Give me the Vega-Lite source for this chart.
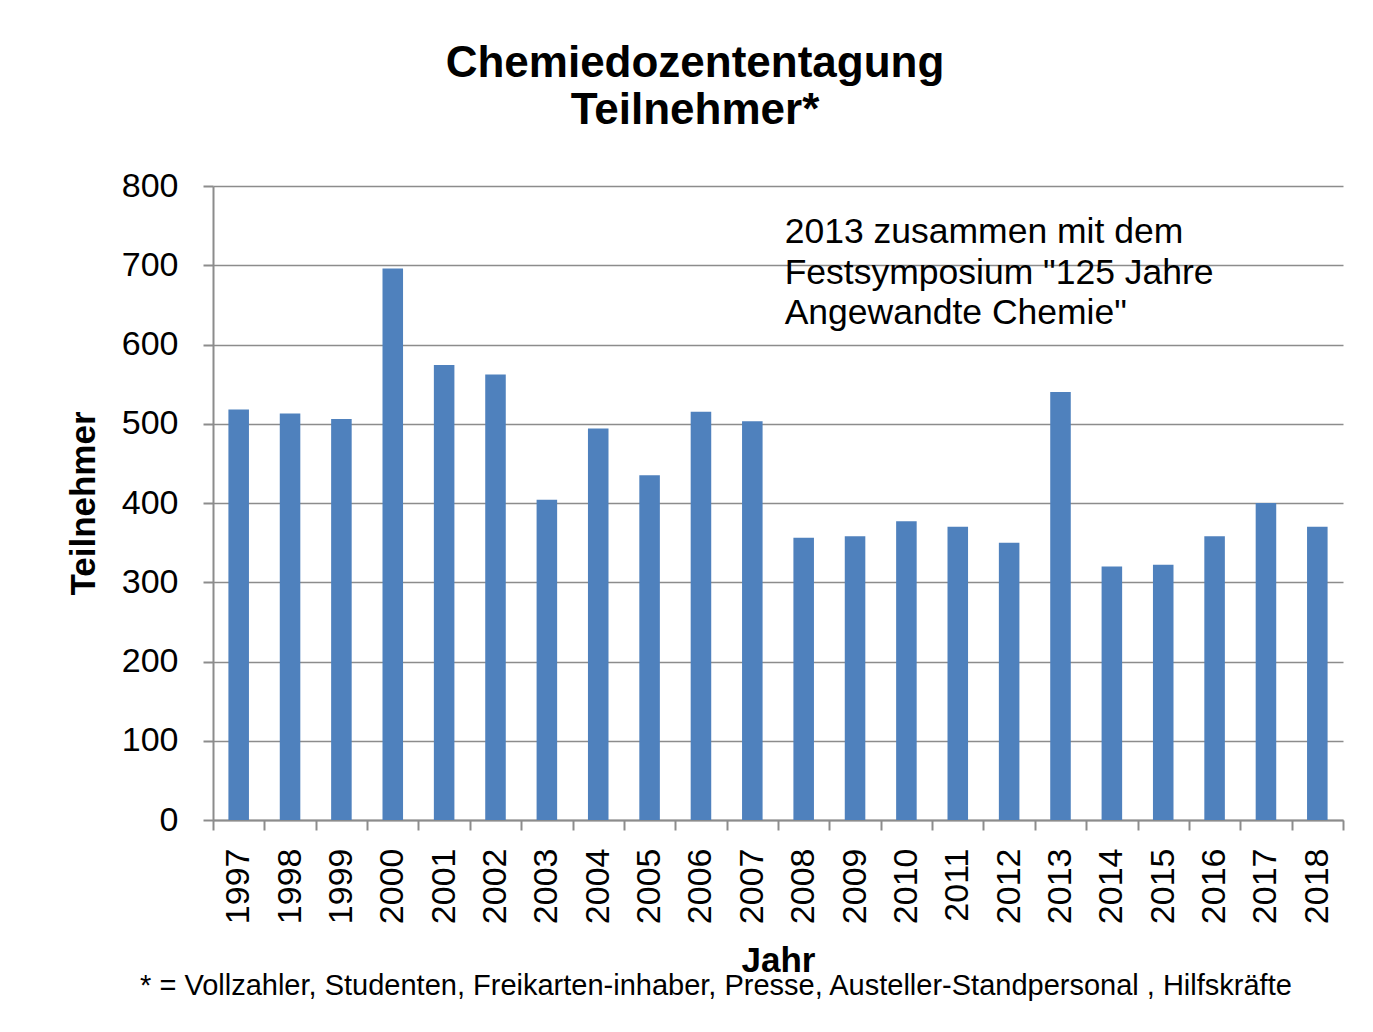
{
  "$schema": "https://vega.github.io/schema/vega-lite/v6.json",
  "width": 1130,
  "height": 634,
  "autosize": "none",
  "padding": {"left": 213, "top": 186, "right": 30, "bottom": 212},
  "background": "white",
  "title": {
    "text": ["Chemiedozententagung", "Teilnehmer*"],
    "anchor": "middle",
    "frame": "group",
    "dx": -83,
    "font": "Liberation Sans",
    "fontSize": 44,
    "fontWeight": "bold",
    "lineHeight": 47,
    "color": "#000000",
    "offset": 36
  },
  "config": {
    "view": {"stroke": null},
    "axis": {
      "labelFont": "Liberation Sans",
      "labelFontSize": 34,
      "labelColor": "#000000",
      "titleFont": "Liberation Sans",
      "titleFontSize": 35,
      "titleFontWeight": "bold",
      "titleColor": "#000000",
      "domainColor": "#8c8c8c",
      "domainWidth": 2,
      "tickColor": "#8c8c8c",
      "tickWidth": 2,
      "tickSize": 10,
      "gridColor": "#8c8c8c",
      "gridWidth": 1.5
    }
  },
  "data": {
    "values": [
      {"Jahr": "1997", "Teilnehmer": 518},
      {"Jahr": "1998", "Teilnehmer": 513},
      {"Jahr": "1999", "Teilnehmer": 506},
      {"Jahr": "2000", "Teilnehmer": 696},
      {"Jahr": "2001", "Teilnehmer": 574},
      {"Jahr": "2002", "Teilnehmer": 562},
      {"Jahr": "2003", "Teilnehmer": 404},
      {"Jahr": "2004", "Teilnehmer": 494},
      {"Jahr": "2005", "Teilnehmer": 435},
      {"Jahr": "2006", "Teilnehmer": 515},
      {"Jahr": "2007", "Teilnehmer": 503},
      {"Jahr": "2008", "Teilnehmer": 356},
      {"Jahr": "2009", "Teilnehmer": 358},
      {"Jahr": "2010", "Teilnehmer": 377},
      {"Jahr": "2011", "Teilnehmer": 370},
      {"Jahr": "2012", "Teilnehmer": 350},
      {"Jahr": "2013", "Teilnehmer": 540},
      {"Jahr": "2014", "Teilnehmer": 320},
      {"Jahr": "2015", "Teilnehmer": 322},
      {"Jahr": "2016", "Teilnehmer": 358},
      {"Jahr": "2017", "Teilnehmer": 400},
      {"Jahr": "2018", "Teilnehmer": 370}
    ]
  },
  "layer": [
    {
      "mark": {"type": "bar", "color": "#4F81BD", "width": {"band": 0.4}},
      "encoding": {
        "x": {
          "field": "Jahr",
          "type": "ordinal",
          "title": "Jahr",
          "scale": {"paddingInner": 0, "paddingOuter": 0},
          "axis": {
            "labelAngle": -90,
            "labelAlign": "right",
            "labelBaseline": "middle",
            "labelPadding": 18,
            "tickBand": "extent",
            "grid": false,
            "titlePadding": 20
          }
        },
        "y": {
          "field": "Teilnehmer",
          "type": "quantitative",
          "title": "Teilnehmer",
          "scale": {"domain": [0, 800], "nice": false},
          "axis": {
            "values": [0, 100, 200, 300, 400, 500, 600, 700, 800],
            "labelPadding": 25,
            "titlePadding": 20,
            "grid": true
          }
        }
      }
    },
    {
      "data": {"values": [{"Jahr": "2008", "y": 763, "note": ["2013 zusammen mit dem", "Festsymposium \"125 Jahre", "Angewandte Chemie\""]}]},
      "mark": {"type": "text", "align": "left", "baseline": "top", "font": "Liberation Sans", "fontSize": 35.5, "lineHeight": 40.5, "dx": -19, "color": "#000000"},
      "encoding": {
        "x": {"field": "Jahr", "type": "ordinal"},
        "y": {"field": "y", "type": "quantitative"},
        "text": {"field": "note"}
      }
    },
    {
      "data": {"values": [{"Jahr": "2006", "y": -209, "note": "* = Vollzahler, Studenten,  Freikarten-inhaber, Presse, Austeller-Standpersonal , Hilfskräfte"}]},
      "mark": {"type": "text", "align": "center", "baseline": "middle", "font": "Liberation Sans", "fontSize": 29, "dx": 15, "color": "#000000"},
      "encoding": {
        "x": {"field": "Jahr", "type": "ordinal"},
        "y": {"field": "y", "type": "quantitative"},
        "text": {"field": "note"}
      }
    }
  ]
}
